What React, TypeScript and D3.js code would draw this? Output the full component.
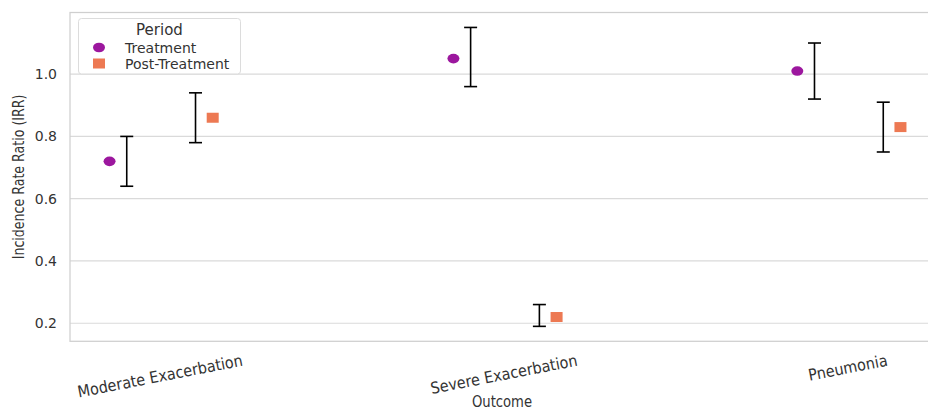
import { useEffect, useRef } from 'react'
import * as d3 from 'd3'

const categories = ['Moderate Exacerbation', 'Severe Exacerbation', 'Pneumonia']
const periods = ['Treatment', 'Post-Treatment']

// IRR point estimates and confidence limits, aligned with categories
const treatmentIrr = [0.72, 1.05, 1.01]
const treatmentLow = [0.64, 0.96, 0.92]
const treatmentHigh = [0.8, 1.15, 1.1]
const postIrr = [0.86, 0.22, 0.83]
const postLow = [0.78, 0.19, 0.75]
const postHigh = [0.94, 0.26, 0.91]

const yTicks = [0.2, 0.4, 0.6, 0.8, 1.0]

const W = 928
const H = 412

export default function App() {
  const ref = useRef<SVGSVGElement | null>(null)

  useEffect(() => {
    const svg = d3.select(ref.current)
    svg.selectAll('*').remove()
    svg.attr('width', W).attr('height', H)

    const font = 'DejaVu Sans, Liberation Sans, sans-serif'
    const textColor = '#333'
    const colors = ['#9c179e', '#ed7953']
    const pointOffset = [-0.15, 0.15]
    const barOffset = [-0.1, 0.1]

    const series = [
      { irr: treatmentIrr, low: treatmentLow, high: treatmentHigh },
      { irr: postIrr, low: postLow, high: postHigh },
    ]

    // matplotlib-style autoscale with 5% margins
    const xs = series.flatMap((_, s) => categories.map((_c, i) => i + pointOffset[s]))
    const xMin = d3.min(xs)!
    const xMax = d3.max(xs)!
    const xPad = (xMax - xMin) * 0.05
    const ys = [...treatmentLow, ...treatmentHigh, ...postLow, ...postHigh, ...treatmentIrr, ...postIrr]
    const yMin = d3.min(ys)!
    const yMax = d3.max(ys)!
    const yPad = (yMax - yMin) * 0.05

    const left = 70
    const right = 940
    const top = 12.5
    const bottom = 341.3
    const x = d3.scaleLinear().domain([xMin - xPad, xMax + xPad]).range([left, right])
    const y = d3.scaleLinear().domain([yMin - yPad, yMax + yPad]).range([bottom, top])

    // grid
    yTicks.forEach((t) => {
      svg.append('line')
        .attr('x1', left).attr('x2', right)
        .attr('y1', y(t)).attr('y2', y(t))
        .attr('stroke', '#dadada').attr('stroke-width', 1.2)
      svg.append('text')
        .attr('x', 57).attr('y', y(t))
        .attr('text-anchor', 'end').attr('dominant-baseline', 'central')
        .attr('font-family', font).attr('font-size', 14).attr('fill', textColor)
        .text(t.toFixed(1))
    })

    // frame
    svg.append('rect')
      .attr('x', left).attr('y', top)
      .attr('width', right - left).attr('height', bottom - top)
      .attr('fill', 'none').attr('stroke', '#cfcfcf').attr('stroke-width', 1.25)

    // error bars and markers
    series.forEach((s, si) => {
      categories.forEach((_c, i) => {
        const bx = x(i + barOffset[si])
        const g = svg.append('g').attr('stroke', '#000').attr('stroke-width', 1.6)
        g.append('line').attr('x1', bx).attr('x2', bx).attr('y1', y(s.low[i])).attr('y2', y(s.high[i]))
        g.append('line').attr('x1', bx - 6.5).attr('x2', bx + 6.5).attr('y1', y(s.low[i])).attr('y2', y(s.low[i]))
        g.append('line').attr('x1', bx - 6.5).attr('x2', bx + 6.5).attr('y1', y(s.high[i])).attr('y2', y(s.high[i]))

        const px = x(i + pointOffset[si])
        const py = y(s.irr[i])
        if (si === 0) {
          svg.append('ellipse').attr('cx', px).attr('cy', py).attr('rx', 6).attr('ry', 4.8).attr('fill', colors[0])
        } else {
          svg.append('rect').attr('x', px - 6).attr('y', py - 5).attr('width', 12).attr('height', 10).attr('fill', colors[1])
        }
      })
    })

    // x tick labels (rotated, top aligned)
    const rot = 11
    categories.forEach((c, i) => {
      const t = svg.append('text')
        .attr('text-anchor', 'middle')
        .attr('font-family', font).attr('font-size', 16).attr('fill', textColor)
        .text(c)
      const len = (t.node() as SVGTextElement).getComputedTextLength() * 0.9
      const yb = 354 + (len / 2) * Math.sin((rot * Math.PI) / 180) + 11.5
      t.attr('transform', `translate(${x(i)},${yb}) rotate(${-rot}) scale(0.9,1)`)
    })

    // axis titles
    svg.append('text')
      .attr('transform', `translate(502,402) scale(0.88,1)`)
      .attr('text-anchor', 'middle').attr('dominant-baseline', 'central')
      .attr('font-family', font).attr('font-size', 15).attr('fill', textColor)
      .text('Outcome')
    svg.append('text')
      .attr('transform', `translate(19,${(top + bottom) / 2}) rotate(-90) scale(0.84,1)`)
      .attr('text-anchor', 'middle').attr('dominant-baseline', 'central')
      .attr('font-family', font).attr('font-size', 15).attr('fill', textColor)
      .text('Incidence Rate Ratio (IRR)')

    // legend
    const lg = svg.append('g')
    lg.append('rect')
      .attr('x', 78.5).attr('y', 18.5).attr('width', 162).attr('height', 55.5).attr('rx', 3)
      .attr('fill', '#fff').attr('fill-opacity', 0.8).attr('stroke', '#dcdcdc')
    lg.append('text')
      .attr('x', 159.5).attr('y', 34.5).attr('text-anchor', 'middle')
      .attr('font-family', font).attr('font-size', 15).attr('fill', textColor)
      .text('Period')
    periods.forEach((p, i) => {
      const cy = 47.5 + i * 16
      if (i === 0) {
        lg.append('ellipse').attr('cx', 99).attr('cy', cy).attr('rx', 6).attr('ry', 4.8).attr('fill', colors[0])
      } else {
        lg.append('rect').attr('x', 93).attr('y', cy - 5).attr('width', 12).attr('height', 10).attr('fill', colors[1])
      }
      lg.append('text')
        .attr('x', 125).attr('y', cy).attr('dominant-baseline', 'central')
        .attr('font-family', font).attr('font-size', 14).attr('fill', textColor)
        .text(p)
    })
  }, [])

  return <svg ref={ref} style={{ position: 'absolute', left: 0, top: 0, background: '#fff' }} />
}
